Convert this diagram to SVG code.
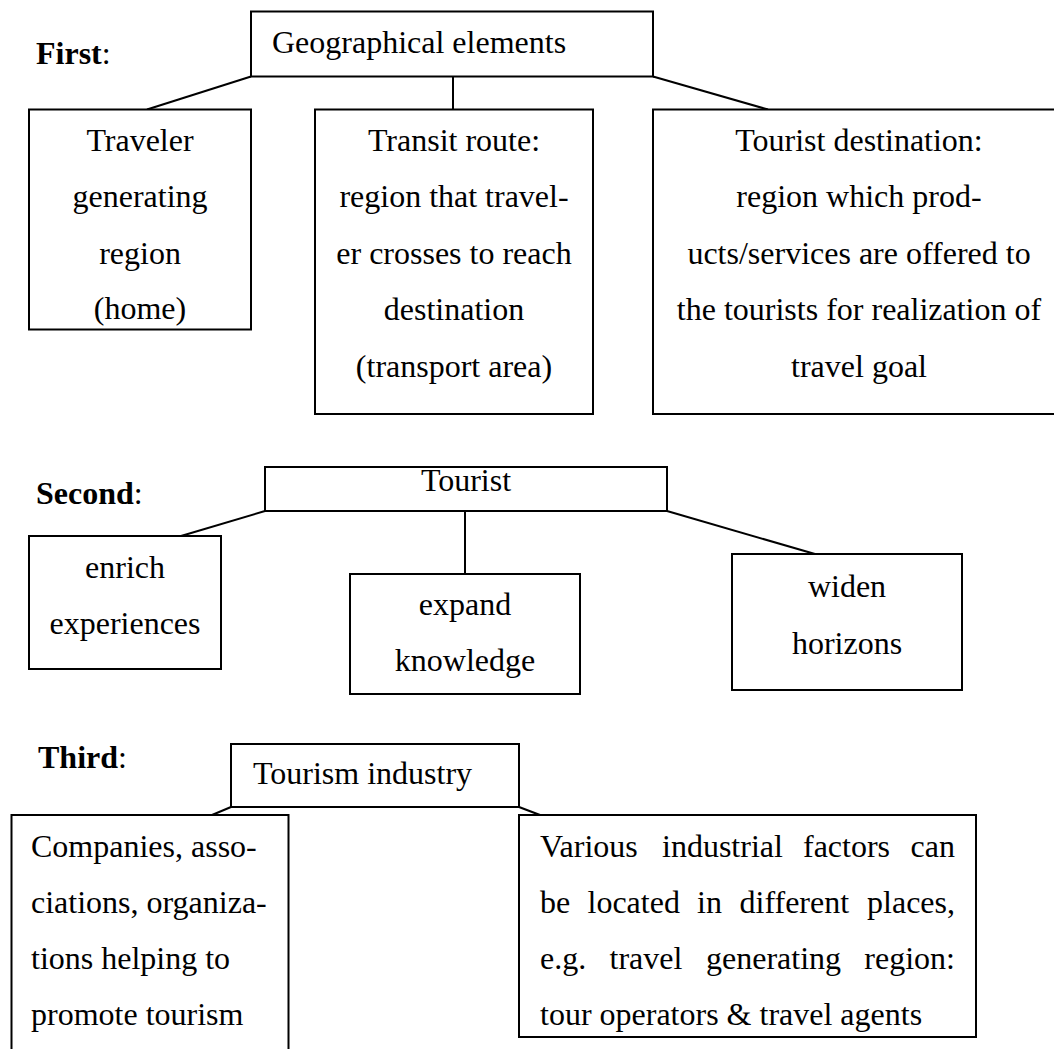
<svg xmlns="http://www.w3.org/2000/svg" width="1054" height="1049" viewBox="0 0 1054 1049">
<style>
  .box{fill:#fff;stroke:#000;stroke-width:2}
  .ln{stroke:#000;stroke-width:2;fill:none}
  text{font-family:"Liberation Serif","Times New Roman",serif;font-size:32px;fill:#000}
  .c{text-anchor:middle}
  .e{text-anchor:end}
  .b{font-weight:bold}
</style>
<rect width="1054" height="1049" fill="#fff"/>
<g id="connectors">
  <line class="ln" x1="251" y1="76.5" x2="147" y2="109.5"/>
  <line class="ln" x1="453" y1="76.5" x2="453" y2="109.5"/>
  <line class="ln" x1="653" y1="76.5" x2="768" y2="109.5"/>
  <line class="ln" x1="265" y1="511" x2="181" y2="536"/>
  <line class="ln" x1="465" y1="511" x2="465" y2="574"/>
  <line class="ln" x1="667" y1="511" x2="815" y2="554"/>
  <line class="ln" x1="231" y1="807" x2="212" y2="815"/>
  <line class="ln" x1="519" y1="807" x2="540" y2="815"/>
</g>
<g id="labels">
  <text x="36" y="64"><tspan class="b">First</tspan>:</text>
  <text x="36" y="504"><tspan class="b">Second</tspan>:</text>
  <text x="38" y="768"><tspan class="b">Third</tspan>:</text>
</g>
<g id="geo">
  <rect class="box" x="251" y="11.5" width="402" height="65"/>
  <text x="272" y="53">Geographical elements</text>
</g>
<g id="traveler">
  <rect class="box" x="29" y="109.5" width="222" height="220"/>
  <text class="c" x="140" y="151">Traveler</text>
  <text class="c" x="140" y="207">generating</text>
  <text class="c" x="140" y="264">region</text>
  <text class="c" x="140" y="319">(home)</text>
</g>
<g id="transit">
  <rect class="box" x="315" y="109.5" width="278" height="304.5"/>
  <text class="c" x="454" y="151">Transit route:</text>
  <text class="c" x="454" y="207">region that travel-</text>
  <text class="c" x="454" y="264">er crosses to reach</text>
  <text class="c" x="454" y="320">destination</text>
  <text class="c" x="454" y="377">(transport area)</text>
</g>
<g id="destination">
  <rect class="box" x="653" y="109.5" width="420" height="304.5"/>
  <text class="c" x="859" y="151">Tourist destination:</text>
  <text class="c" x="859" y="207">region which prod-</text>
  <text class="c" x="859" y="264">ucts/services are offered to</text>
  <text class="c" x="859" y="320">the tourists for realization of</text>
  <text class="c" x="859" y="377">travel goal</text>
</g>
<g id="tourist">
  <rect class="box" x="265" y="467" width="402" height="44"/>
  <text class="c" x="466" y="491">Tourist</text>
</g>
<g id="enrich">
  <rect class="box" x="29" y="536" width="192" height="133"/>
  <text class="c" x="125" y="578">enrich</text>
  <text class="c" x="125" y="634">experiences</text>
</g>
<g id="expand">
  <rect class="box" x="350" y="574" width="230" height="120"/>
  <text class="c" x="465" y="615">expand</text>
  <text class="c" x="465" y="671">knowledge</text>
</g>
<g id="widen">
  <rect class="box" x="732" y="554" width="230" height="136"/>
  <text class="c" x="847" y="597">widen</text>
  <text class="c" x="847" y="654">horizons</text>
</g>
<g id="industry">
  <rect class="box" x="231" y="744" width="288" height="63"/>
  <text x="253" y="784">Tourism industry</text>
</g>
<g id="companies">
  <path class="ln" d="M11.5,1052 V815 H288.5 V1052" fill="#fff"/>
  <text x="31" y="857">Companies, asso-</text>
  <text x="31" y="913">ciations, organiza-</text>
  <text x="31" y="969">tions helping to</text>
  <text x="31" y="1025">promote tourism</text>
</g>
<g id="factors">
  <rect class="box" x="519" y="815" width="457" height="222"/>
  <text x="540" y="857">Various</text>
  <text x="662" y="857">industrial</text>
  <text x="803" y="857">factors</text>
  <text class="e" x="955" y="857">can</text>
  <text x="540" y="913">be</text>
  <text x="587.5" y="913">located</text>
  <text x="697" y="913">in</text>
  <text x="739.5" y="913">different</text>
  <text class="e" x="955" y="913">places,</text>
  <text x="540" y="969">e.g.</text>
  <text x="609.5" y="969">travel</text>
  <text x="706" y="969">generating</text>
  <text class="e" x="955" y="969">region:</text>
  <text x="540" y="1025">tour operators &amp; travel agents</text>
</g>
</svg>
